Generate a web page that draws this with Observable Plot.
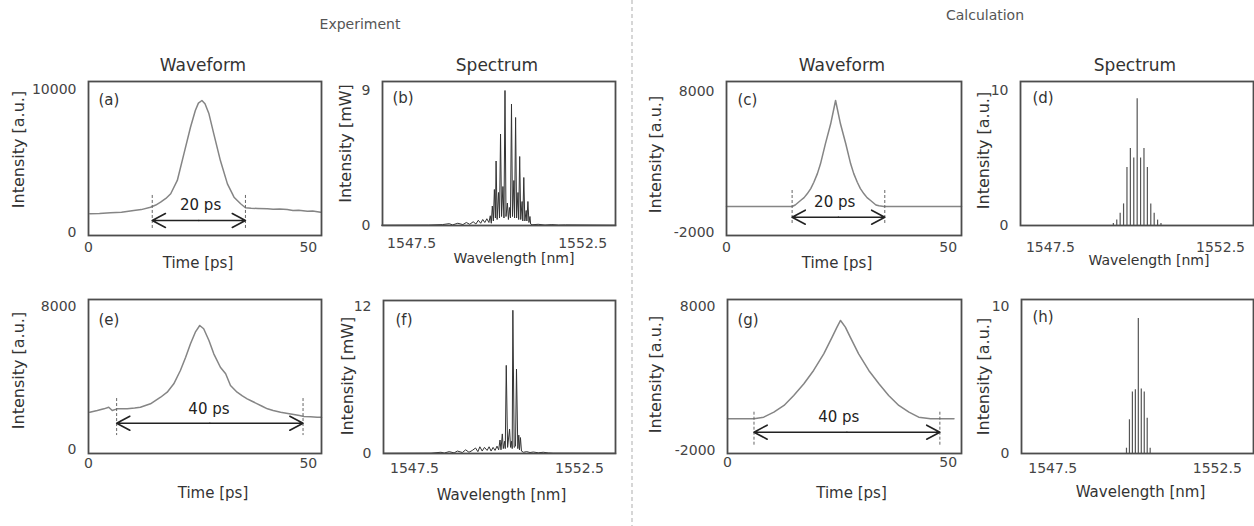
<!DOCTYPE html>
<html><head><meta charset="utf-8">
<script src="https://cdn.jsdelivr.net/npm/d3@7"></script>
<script src="https://cdn.jsdelivr.net/npm/@observablehq/plot@0.6"></script>
<style>
html,body{margin:0;padding:0;background:#fff;}
#chart{position:relative;width:1254px;height:526px;overflow:hidden;font-family:"DejaVu Sans",sans-serif;background:#fff;}
.t{position:absolute;transform:translate(-50%,-50%);white-space:nowrap;color:#333;}
</style></head><body><div id="chart"></div>
<script>
// ---------- DATA ----------
// (a) experimental waveform, 20 ps
const a_t = [0.3, 2.5, 5.0, 7.5, 10.3, 12.0, 14.1, 15.3, 16.4, 17.6, 18.7, 20.2, 21.7, 23.2, 24.3, 25.0, 25.8, 26.5, 27.4, 28.5, 30.0, 31.6, 33.1, 34.6, 35.7, 37.0, 38.5, 40.7, 42.0, 43.5, 45.2, 46.5, 47.8, 49.8, 51.0, 52.8];
const a_v = [1310, 1330, 1380, 1420, 1540, 1600, 1770, 1920, 2120, 2380, 2710, 3640, 5500, 7360, 8530, 9050, 9230, 9000, 8300, 6900, 5030, 3400, 2470, 2010, 1730, 1700, 1680, 1660, 1620, 1650, 1610, 1540, 1560, 1490, 1510, 1420];
// (c) calculated waveform, 20 ps
const c_t = [0, 14.8, 15.5, 16.7, 17.5, 18.2, 19.0, 19.7, 20.5, 21.2, 22.3, 23.5, 24.6, 25.7, 26.9, 28.0, 28.7, 29.5, 30.2, 31.0, 31.7, 32.5, 33.7, 34.4, 35.5, 53];
const c_v = [-150, -150, -40, 277, 480, 751, 1120, 1572, 2180, 2874, 4290, 5705, 7354, 5705, 4290, 2874, 2180, 1572, 1120, 751, 480, 277, -40, -100, -150, -150];
// (e) experimental waveform, 40 ps
const e_t = [0.3, 2.0, 3.5, 4.6, 5.4, 6.5, 8.8, 10.5, 11.8, 14.1, 16.4, 17.9, 19.4, 20.9, 22.1, 23.2, 24.3, 25.3, 26.2, 27.4, 28.5, 30.0, 31.2, 32.3, 33.8, 35.0, 36.1, 37.2, 38.4, 39.5, 40.7, 42.0, 43.7, 45.0, 46.7, 48.0, 49.0, 50.5, 52.0, 53.0];
const e_v = [2087, 2182, 2277, 2366, 2182, 2277, 2277, 2320, 2366, 2557, 2926, 3206, 3676, 4420, 5164, 5913, 6562, 6937, 6752, 6098, 5354, 4604, 4235, 3580, 3206, 3000, 2836, 2700, 2557, 2420, 2277, 2180, 2087, 2030, 1958, 1900, 1846, 1830, 1807, 1800];
// (g) calculated waveform, 40 ps
const g_t = [0, 6.0, 8.2, 10.5, 12.8, 15.0, 17.3, 19.5, 21.8, 23.7, 24.8, 25.6, 26.7, 27.8, 29.7, 32.0, 34.3, 36.5, 38.8, 41.1, 43.3, 46.0, 51.3];
const g_v = [211, 211, 323, 670, 1136, 1831, 2644, 3568, 4728, 5882, 6577, 7043, 6577, 5882, 4728, 3568, 2644, 1831, 1136, 670, 323, 211, 211];

// (b) experimental spectrum [mW]
const b_wl = [1546.62, 1548.0, 1548.4, 1548.6, 1548.7, 1548.85, 1549.0, 1549.1, 1549.2, 1549.3, 1549.38, 1549.45, 1549.52, 1549.58, 1549.64, 1549.7, 1549.76, 1549.8, 1549.83, 1549.86, 1549.89, 1549.92, 1549.95, 1549.97, 1550.0, 1550.04, 1550.07, 1550.10, 1550.13, 1550.17, 1550.20, 1550.23, 1550.26, 1550.30, 1550.33, 1550.36, 1550.39, 1550.42, 1550.45, 1550.49, 1550.51, 1550.54, 1550.57, 1550.61, 1550.63, 1550.66, 1550.69, 1550.73, 1550.75, 1550.78, 1550.81, 1550.85, 1550.87, 1550.90, 1550.93, 1550.96, 1550.98, 1551.02, 1551.2, 1551.4, 1551.6, 1551.8, 1552.0, 1553.47];
const b_int = [0.02, 0.03, 0.06, 0.12, 0.04, 0.15, 0.06, 0.2, 0.08, 0.25, 0.1, 0.35, 0.15, 0.4, 0.2, 0.45, 0.2, 0.65, 0.15, 1.3, 0.3, 2.4, 0.5, 4.3, 0.4, 2.2, 0.5, 6.1, 0.6, 2.6, 0.5, 9.0, 0.6, 1.5, 0.4, 1.2, 0.5, 8.1, 0.6, 3.0, 0.5, 7.2, 0.5, 2.2, 0.4, 4.6, 0.4, 1.6, 0.3, 3.2, 0.3, 1.0, 0.3, 1.6, 0.2, 0.6, 0.1, 0.05, 0.08, 0.03, 0.06, 0.03, 0.04, 0.02];
// (f) experimental spectrum [mW]
const f_wl = [1546.56, 1548.0, 1548.3, 1548.4, 1548.55, 1548.7, 1548.8, 1548.95, 1549.05, 1549.15, 1549.25, 1549.35, 1549.42, 1549.48, 1549.55, 1549.62, 1549.7, 1549.76, 1549.82, 1549.88, 1549.94, 1550.0, 1550.05, 1550.09, 1550.12, 1550.16, 1550.19, 1550.23, 1550.25, 1550.28, 1550.32, 1550.38, 1550.41, 1550.44, 1550.46, 1550.48, 1550.52, 1550.56, 1550.59, 1550.63, 1550.66, 1550.68, 1550.71, 1550.74, 1550.8, 1550.9, 1551.0, 1551.1, 1551.25, 1551.4, 1551.55, 1551.7, 1553.6];
const f_int = [0.02, 0.03, 0.1, 0.04, 0.15, 0.05, 0.2, 0.08, 0.3, 0.1, 0.25, 0.45, 0.15, 0.55, 0.2, 0.5, 0.25, 0.55, 0.2, 0.5, 0.25, 0.6, 0.3, 1.1, 0.3, 1.6, 0.4, 1.0, 0.4, 7.2, 0.5, 2.0, 0.5, 1.0, 0.4, 11.7, 0.5, 0.6, 6.9, 0.4, 1.5, 0.3, 1.3, 0.2, 0.1, 0.15, 0.08, 0.12, 0.06, 0.1, 0.05, 0.03, 0.02];
// (d) calculated spectrum lines [a.u.]
const d_wl = [1549.35, 1549.45, 1549.55, 1549.65, 1549.75, 1549.85, 1549.95, 1550.05, 1550.15, 1550.25, 1550.35, 1550.45, 1550.55, 1550.65, 1550.75];
const d_int = [0.15, 0.4, 0.9, 1.6, 4.3, 5.7, 5.0, 9.4, 5.0, 5.7, 4.3, 1.6, 0.9, 0.4, 0.15];
// (h) calculated spectrum lines [a.u.]
const h_wl = [1549.74, 1549.83, 1549.92, 1550.01, 1550.10, 1550.19, 1550.28, 1550.37, 1550.46];
const h_int = [0.36, 2.3, 4.2, 4.35, 9.2, 4.4, 4.2, 2.4, 0.36];

// pulse-width annotations: [start, end] time, arrow level, marker span
const a_mark = [14.5, 35.7], a_arrowY = 840, a_markY = [2590, 140], a_text = [25.5, 1890];
const c_mark = [14.8, 35.7], c_arrowY = -905, c_markY = [985, -1350], c_text = [24.4, 157];
const e_mark = [6.4, 48.8], e_arrowY = 1471, e_markY = [2853, 783], e_text = [27.4, 2277];
const g_mark = [6.0, 48.1], g_arrowY = -720, g_markY = [670, -1644], g_text = [25.2, 323];

// tick labels
const timeTicks = [0, 50];
const wlTicks = [1547.5, 1552.5];

// ---------- DRAW ----------
const chart = document.getElementById("chart");
const toPts = (xs, ys) => xs.map((x, i) => ({x, y: ys[i]}));

function annot(mark, arrowY, markY, text, label) {
  const mid = (mark[0] + mark[1]) / 2;
  const arrows = [{x1: mid, x2: mark[0]}, {x1: mid, x2: mark[1]}];
  return [
    Plot.ruleX(mark, {y1: markY[0], y2: markY[1], stroke: "#666", strokeWidth: 1, strokeDasharray: "3,2"}),
    Plot.arrow(arrows, {x1: "x1", x2: "x2", y1: arrowY, y2: arrowY, stroke: "#222", strokeWidth: 1.6, headLength: 14, headAngle: 56}),
    Plot.text([label], {x: text[0], y: text[1], text: d => d, fontSize: 15, fill: "#222"})
  ];
}

function panel(o) {
  const ml = 100, mr = 10, mt = 10, mb = 60;
  const p = Plot.plot({
    width: o.W + ml + mr, height: o.H + mt + mb,
    marginLeft: ml, marginRight: mr, marginTop: mt, marginBottom: mb,
    style: {background: "transparent", overflow: "visible", fontFamily: "DejaVu Sans", fontSize: "14px", color: "#444"},
    x: {domain: o.xDomain},
    y: {domain: o.yDomain},
    marks: [
      ...o.marks,
      Plot.frame({stroke: "#4d4d4d", strokeWidth: 1.8}),
      Plot.axisX({ticks: o.xTicks, tickSize: 0, tickPadding: o.xPad, tickFormat: d => String(d), label: null, fontSize: 14}),
      Plot.axisY({ticks: o.yTicks, tickSize: 0, tickPadding: 12, tickFormat: d => String(d), label: null, fontSize: 14}),
      Plot.text([o.xLabel], {text: d => d, frameAnchor: "bottom", textAnchor: "middle", lineAnchor: "middle", dy: o.xLabOff, dx: o.xLabDx, fontSize: o.xLabSize || 15, fill: "#333"}),
      Plot.text([o.yLabel], {text: d => d, frameAnchor: "left", rotate: -90, textAnchor: "middle", lineAnchor: "middle", dx: o.yLabDx, dy: o.yLabDy, fontSize: 16, fill: "#333"}),
      Plot.text([o.tag], {text: d => d, frameAnchor: "top-left", textAnchor: "start", lineAnchor: "middle", dx: o.tagDx, dy: o.tagDy, fontSize: 15, fill: "#333"})
    ]
  });
  p.style.position = "absolute";
  p.style.left = (o.L - ml) + "px";
  p.style.top = (o.T - mt) + "px";
  chart.appendChild(p);
}

const waveStroke = "#858585";

// (a)
panel({L: 88, T: 81, W: 233, H: 154, xDomain: [0, 53], yDomain: [-210, 10560],
  xTicks: timeTicks, yTicks: [0, 10000], xPad: 7, xLabel: "Time [ps]", xLabOff: 28, xLabDx: -7,
  yLabel: "Intensity [a.u.]", yLabDx: -70, yLabDy: -9, tag: "(a)", tagDx: 10, tagDy: 19,
  marks: [Plot.line(toPts(a_t, a_v), {x: "x", y: "y", stroke: waveStroke, strokeWidth: 1.5}),
          ...annot(a_mark, a_arrowY, a_markY, a_text, "20 ps")]});
// (b)
panel({L: 382, T: 81, W: 233, H: 144, xDomain: [1546.65, 1553.46], yDomain: [0, 9.6],
  xTicks: wlTicks, yTicks: [0, 9], xPad: 13, xLabel: "Wavelength [nm]", xLabOff: 33, xLabDx: 15, xLabSize: 14,
  yLabel: "Intensity [mW]", yLabDx: -37, yLabDy: -10, tag: "(b)", tagDx: 10, tagDy: 17,
  marks: [Plot.line(toPts(b_wl, b_int), {x: "x", y: "y", stroke: "#333", strokeWidth: 1})]});
// (c)
panel({L: 726, T: 81, W: 235, H: 154, xDomain: [0, 53], yDomain: [-2200, 8700],
  xTicks: timeTicks, yTicks: [-2000, 8000], xPad: 7, xLabel: "Time [ps]", xLabOff: 28, xLabDx: -7,
  yLabel: "Intensity [a.u.]", yLabDx: -71, yLabDy: -4, tag: "(c)", tagDx: 11, tagDy: 19,
  marks: [Plot.line(toPts(c_t, c_v), {x: "x", y: "y", stroke: waveStroke, strokeWidth: 1.5}),
          ...annot(c_mark, c_arrowY, c_markY, c_text, "20 ps")]});
// (d)
panel({L: 1020, T: 81, W: 233, H: 144, xDomain: [1546.62, 1553.47], yDomain: [0, 10.67],
  xTicks: wlTicks, yTicks: [0, 10], xPad: 17, xLabel: "Wavelength [nm]", xLabOff: 35, xLabDx: 12, xLabSize: 14,
  yLabel: "Intensity [a.u.]", yLabDx: -37, yLabDy: -3, tag: "(d)", tagDx: 12, tagDy: 17,
  marks: [Plot.ruleX(toPts(d_wl, d_int), {x: "x", y1: 0, y2: "y", stroke: "#555", strokeWidth: 1.2})]});
// (e)
panel({L: 88, T: 299, W: 233, H: 154, xDomain: [0, 53], yDomain: [-220, 8390],
  xTicks: timeTicks, yTicks: [0, 8000], xPad: 5, xLabel: "Time [ps]", xLabOff: 40, xLabDx: 8,
  yLabel: "Intensity [a.u.]", yLabDx: -70, yLabDy: -6, tag: "(e)", tagDx: 10, tagDy: 21,
  marks: [Plot.line(toPts(e_t, e_v), {x: "x", y: "y", stroke: waveStroke, strokeWidth: 1.5}),
          ...annot(e_mark, e_arrowY, e_markY, e_text, "40 ps")]});
// (f)
panel({L: 383, T: 300, W: 232, H: 153, xDomain: [1546.56, 1553.59], yDomain: [0, 12.5],
  xTicks: wlTicks, yTicks: [0, 12], xPad: 10, xLabel: "Wavelength [nm]", xLabOff: 42, xLabDx: 2,
  yLabel: "Intensity [mW]", yLabDx: -36, yLabDy: -1, tag: "(f)", tagDx: 12, tagDy: 20,
  marks: [Plot.line(toPts(f_wl, f_int), {x: "x", y: "y", stroke: "#333", strokeWidth: 1})]});
// (g)
panel({L: 727, T: 299, W: 234, H: 154, xDomain: [0, 53], yDomain: [-2200, 8500],
  xTicks: timeTicks, yTicks: [-2000, 8000], xPad: 4, xLabel: "Time [ps]", xLabOff: 40, xLabDx: 7,
  yLabel: "Intensity [a.u.]", yLabDx: -72, yLabDy: -2, tag: "(g)", tagDx: 10, tagDy: 21,
  marks: [Plot.line(toPts(g_t, g_v), {x: "x", y: "y", stroke: waveStroke, strokeWidth: 1.5}),
          ...annot(g_mark, g_arrowY, g_markY, g_text, "40 ps")]});
// (h)
panel({L: 1021, T: 299, W: 232, H: 154, xDomain: [1546.55, 1553.6], yDomain: [0, 10.5],
  xTicks: wlTicks, yTicks: [0, 10], xPad: 10, xLabel: "Wavelength [nm]", xLabOff: 39, xLabDx: 3,
  yLabel: "Intensity [a.u.]", yLabDx: -38, yLabDy: 0, tag: "(h)", tagDx: 11, tagDy: 18,
  marks: [Plot.ruleX(toPts(h_wl, h_int), {x: "x", y1: 0, y2: "y", stroke: "#555", strokeWidth: 1.2})]});

// headings
const headings = [
  {text: "Experiment", x: 360, y: 24, size: 14, color: "#555"},
  {text: "Calculation", x: 985, y: 15, size: 14, color: "#555"},
  {text: "Waveform", x: 203, y: 65, size: 17, color: "#333"},
  {text: "Spectrum", x: 497, y: 65, size: 17, color: "#333"},
  {text: "Waveform", x: 842, y: 65, size: 17, color: "#333"},
  {text: "Spectrum", x: 1135, y: 65, size: 17, color: "#333"}
];
for (const h of headings) {
  const d = document.createElement("div");
  d.className = "t";
  d.textContent = h.text;
  d.style.left = h.x + "px"; d.style.top = h.y + "px";
  d.style.fontSize = h.size + "px"; d.style.color = h.color;
  chart.appendChild(d);
}
// dashed separator
const ns = "http://www.w3.org/2000/svg";
const sep = document.createElementNS(ns, "svg");
sep.setAttribute("width", 4); sep.setAttribute("height", 526);
sep.style.position = "absolute"; sep.style.left = "630px"; sep.style.top = "0px";
const ln = document.createElementNS(ns, "line");
ln.setAttribute("x1", 2); ln.setAttribute("x2", 2); ln.setAttribute("y1", 0); ln.setAttribute("y2", 526);
ln.setAttribute("stroke", "#bbb"); ln.setAttribute("stroke-width", 1.2); ln.setAttribute("stroke-dasharray", "4,3");
sep.appendChild(ln);
chart.appendChild(sep);
</script>
</body></html>
